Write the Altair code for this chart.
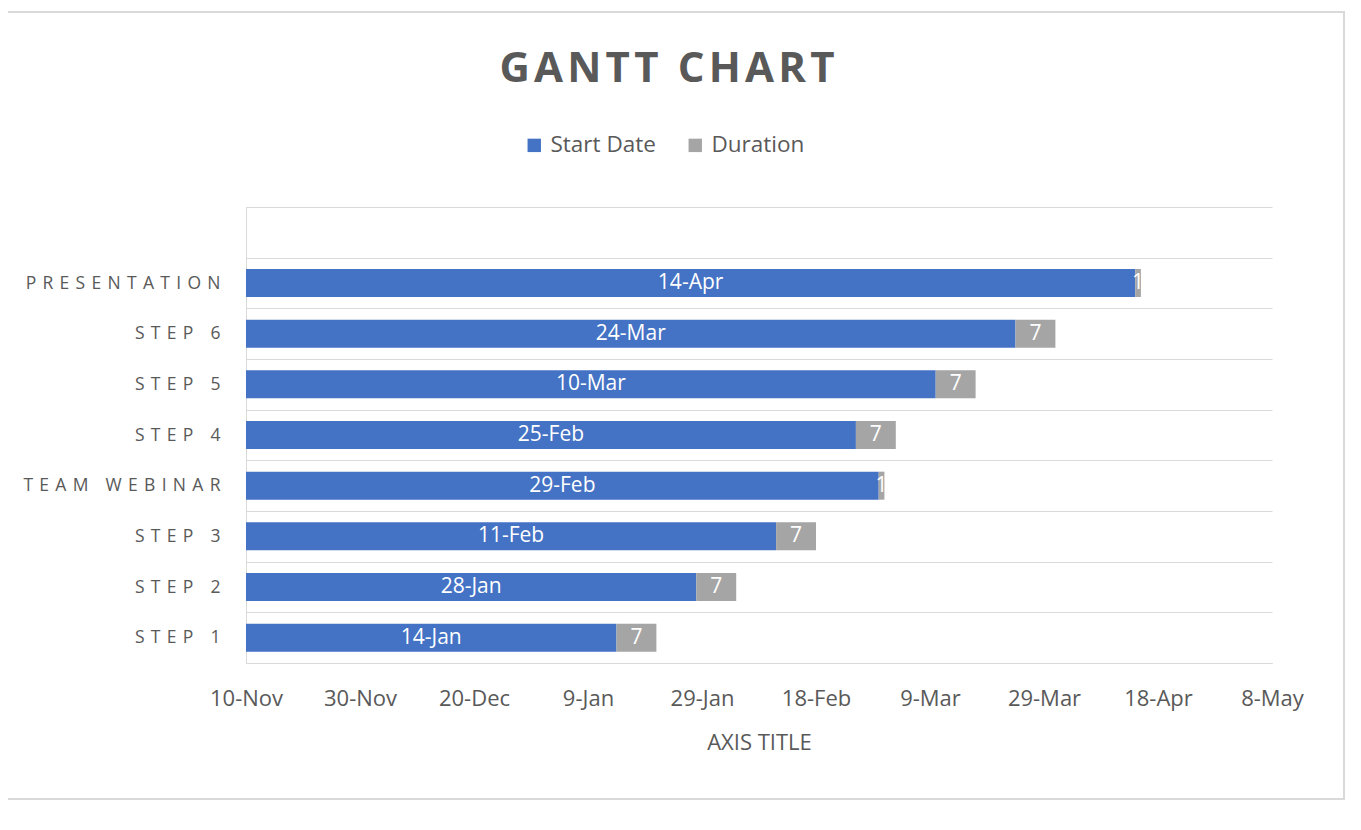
import altair as alt
import pandas as pd

TASKS = ["STEP 1", "STEP 2", "STEP 3", "TEAM WEBINAR", "STEP 4", "STEP 5", "STEP 6", "PRESENTATION"]
START_DATES = ["2020-01-14", "2020-01-28", "2020-02-11", "2020-02-29",
               "2020-02-25", "2020-03-10", "2020-03-24", "2020-04-14"]
DURATIONS = [7, 7, 7, 1, 7, 7, 7, 1]
AXIS_MIN = "2019-11-10"
AXIS_MAX = "2020-05-08"
TICK_DATES = ["2019-11-10", "2019-11-30", "2019-12-20", "2020-01-09", "2020-01-29",
              "2020-02-18", "2020-03-09", "2020-03-29", "2020-04-18", "2020-05-08"]
Y_ORDER = [" ", "PRESENTATION", "STEP 6", "STEP 5", "STEP 4", "TEAM WEBINAR", "STEP 3", "STEP 2", "STEP 1"]
SERIES = ["Start Date", "Duration"]
COLORS = ["#4472C4", "#A5A5A5"]
TITLE = "GANTT CHART"
X_TITLE = "AXIS TITLE"

DAY = 86400000


def ms(s):
    return int(pd.Timestamp(s, tz="UTC").value // 10**6)


rows = []
for task, start, dur in zip(TASKS, START_DATES, DURATIONS):
    s = ms(start)
    rows.append({"task": task, "series": "Start Date", "x0": ms(AXIS_MIN), "x1": s,
                 "label": pd.Timestamp(start).strftime("%-d-%b")})
    rows.append({"task": task, "series": "Duration", "x0": s, "x1": s + dur * DAY,
                 "label": str(dur)})
df = pd.DataFrame(rows)

TEXT = "#595959"
GRID = "#D9D9D9"
FONT = "Open Sans"

W, H = 1026, 456

y_scale = alt.Scale(domain=Y_ORDER, paddingInner=0, paddingOuter=0)

y_enc = alt.Y(
    "task:N",
    scale=y_scale,
    axis=alt.Axis(
        title=None, ticks=False, grid=True, gridColor=GRID, tickBand="extent",
        domainColor=GRID, labelColor=TEXT, labelFontSize=17.5, labelPadding=26,
        labelFont=FONT, labelLimit=0,
        labelExpr="join(split(datum.label, ''), '\u00a0\u200a')",
    ),
)

x_scale = alt.Scale(type="utc", domain=[ms(AXIS_MIN), ms(AXIS_MAX)], nice=False)

bars = alt.Chart(df).mark_bar(size=28).encode(
    x=alt.X(
        "x0:T",
        scale=x_scale,
        axis=alt.Axis(
            title=X_TITLE, values=[ms(t) for t in TICK_DATES],
            labelExpr="utcFormat(datum.value, '%-d-%b')",
            ticks=False, grid=False, domainColor=GRID, labelFlush=False,
            labelColor=TEXT, labelFontSize=22, labelPadding=25, labelFont=FONT,
            titleColor=TEXT, titleFontSize=22, titleFontWeight="normal",
            titlePadding=23, titleFont=FONT,
        ),
    ),
    x2="x1:T",
    y=y_enc,
    color=alt.Color(
        "series:N",
        scale=alt.Scale(domain=SERIES, range=COLORS),
        legend=alt.Legend(
            title=None, orient="none", legendX=277, legendY=-73,
            direction="horizontal", symbolType="square", symbolSize=180,
            symbolStrokeWidth=0, labelFontSize=22.5, labelColor=TEXT, labelFont=FONT,
            columnPadding=28, labelOffset=5, padding=0,
        ),
    ),
)

labels = alt.Chart(df).transform_calculate(
    mid="(datum.x0 + datum.x1) / 2"
).mark_text(color="white", fontSize=21, font=FONT).encode(
    x=alt.X("mid:T", scale=x_scale),
    y=alt.Y("task:N", scale=y_scale),
    text="label:N",
)

frame = alt.Chart(pd.DataFrame({"f": [0]})).mark_rect(
    fill=None, stroke=GRID, strokeWidth=2
).encode(
    x=alt.value(-300), x2=alt.value(1098), y=alt.value(-195), y2=alt.value(592)
)

chart = alt.layer(frame, bars, labels).properties(
    width=W, height=H,
    padding={"left": 238, "top": 199, "right": 80, "bottom": 150},
    autosize=alt.AutoSizeParams(type="none"),
    title=alt.TitleParams(
        alt.expr("join(split('" + TITLE + "', ''), '\u200a')"),
        fontSize=42, fontWeight="bold", color=TEXT, font=FONT,
        anchor="middle", dx=-92, offset=-80, baseline="top",
    ),
).configure(font=FONT).configure_view(strokeWidth=0, stroke="transparent")

chart.save("out.html", embed_options={"renderer": "svg", "actions": False})
